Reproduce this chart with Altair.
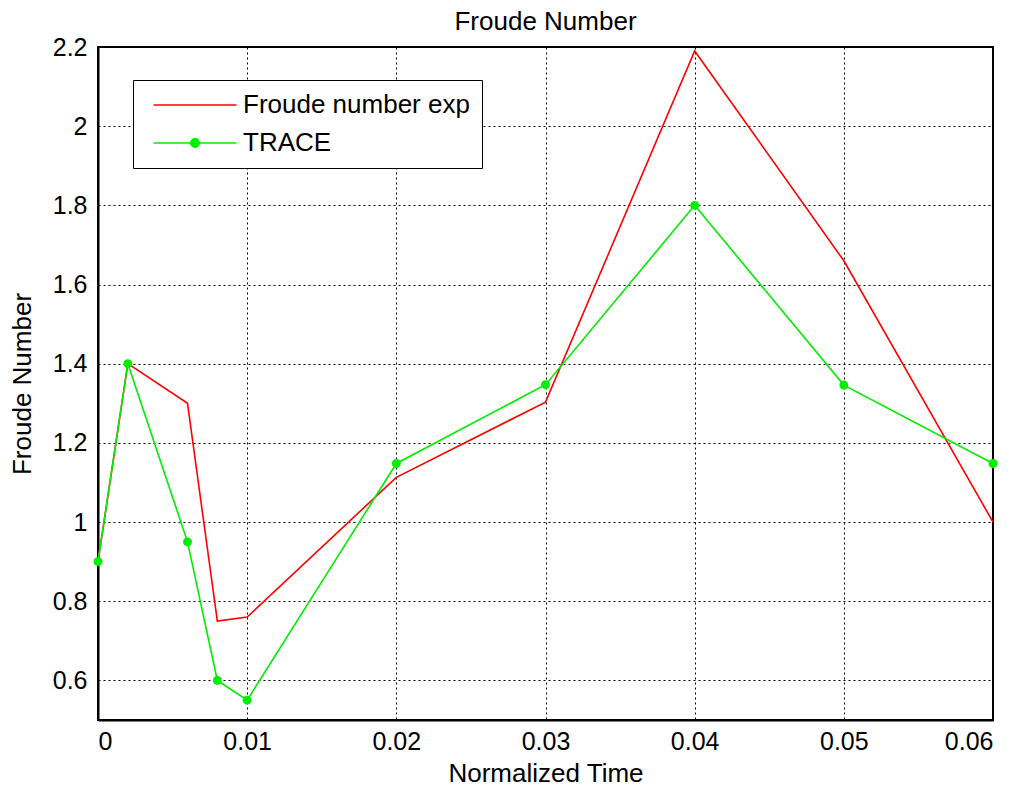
import altair as alt
import pandas as pd

series_names = ["Froude number exp", "TRACE"]
t_exp = [0, 0.002, 0.006, 0.008, 0.01, 0.02, 0.03, 0.04, 0.05, 0.06]
fr_exp = [0.9, 1.4, 1.3, 0.75, 0.76, 1.113, 1.303, 2.19, 1.66, 1.0]
t_trace = [0, 0.002, 0.006, 0.008, 0.01, 0.02, 0.03, 0.04, 0.05, 0.06]
fr_trace = [0.9, 1.4, 0.95, 0.6, 0.55, 1.148, 1.347, 1.8, 1.346, 1.148]
x_ticks = [0, 0.01, 0.02, 0.03, 0.04, 0.05, 0.06]
y_ticks = [0.6, 0.8, 1.0, 1.2, 1.4, 1.6, 1.8, 2.0, 2.2]

df = pd.concat([
    pd.DataFrame({"t": t_exp, "fr": fr_exp, "series": series_names[0]}),
    pd.DataFrame({"t": t_trace, "fr": fr_trace, "series": series_names[1]}),
])
df_trace = df[df["series"] == "TRACE"]

FONT = "Liberation Sans"
LINE_PATH = "M-4.15,0H4.15"
DOT_PATH = "M-4.15,0H4.15M0.42,0A0.42,0.42 0 1 1 -0.42,0A0.42,0.42 0 1 1 0.42,0Z"
COLORS = ["#ff0000", "#00ee00"]

x_enc = alt.X("t:Q", scale=alt.Scale(domain=[0, 0.06], nice=False, zero=False),
              axis=alt.Axis(values=x_ticks, format="~g", title="Normalized Time",
                            labelPadding=9, titlePadding=6))
y_enc = alt.Y("fr:Q", scale=alt.Scale(domain=[0.5, 2.2], nice=False, zero=False),
              axis=alt.Axis(values=y_ticks, format="~g", title="Froude Number",
                            labelPadding=11, titlePadding=17))

legend_kw = dict(orient="none", legendX=35, legendY=33, title=None,
                 symbolSize=400, symbolStrokeWidth=1.6, symbolOffset=37,
                 symbolFillColor="#00ee00", symbolOpacity=1,
                 labelFontSize=26, labelFont=FONT, labelColor="black",
                 labelLimit=0, labelOffset=35,
                 strokeColor="black", fillColor="white",
                 padding=12, rowPadding=12)

stroke_scale = alt.Scale(domain=series_names, range=COLORS)
shape_scale = alt.Scale(domain=series_names, range=[LINE_PATH, DOT_PATH])

lines = alt.Chart(df).mark_line(strokeWidth=1.6).encode(
    x=x_enc, y=y_enc,
    stroke=alt.Stroke("series:N", scale=stroke_scale, legend=alt.Legend(**legend_kw)),
    order=alt.Order("t:Q"),
)

points = alt.Chart(df_trace).mark_point(filled=True, size=80, opacity=1, color="#00ee00").encode(
    x=x_enc, y=y_enc,
)

# legend-only layer: no rows survive the filter, so it draws nothing on the plot
legend_layer = alt.Chart(df).transform_filter("false").mark_point(filled=True, fill="#00ee00").encode(
    x=x_enc, y=y_enc,
    stroke=alt.Stroke("series:N", scale=stroke_scale, legend=alt.Legend(**legend_kw)),
    shape=alt.Shape("series:N", scale=shape_scale, legend=alt.Legend(**legend_kw)),
)

chart = alt.layer(lines, points, legend_layer).properties(
    width=895, height=673,
    padding={"left": 1, "top": 1, "right": 0, "bottom": 0},
    title=alt.TitleParams("Froude Number", fontSize=26, font=FONT, fontWeight="normal",
                          color="black", offset=0, frame="group"),
).configure_view(stroke="black", strokeWidth=2).configure_axis(
    grid=True, gridColor="black", gridDash=[2, 3], gridOpacity=1, gridWidth=1,
    domainColor="black", domainWidth=2, ticks=False,
    labelFont=FONT, labelFontSize=25, labelColor="black",
    titleFont=FONT, titleFontSize=26, titleFontWeight="normal", titleColor="black",
)

chart.save("out.html", embed_options={"renderer": "svg", "actions": False})
